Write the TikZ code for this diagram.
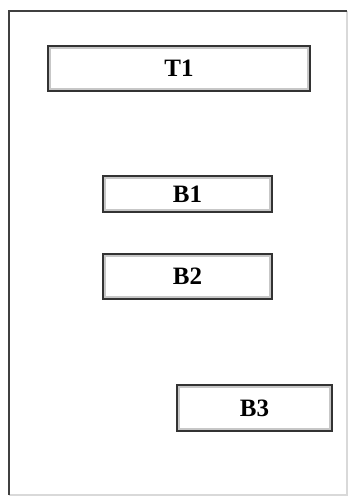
\documentclass[tikz,border=0pt]{standalone}
\usepackage{fontspec}
\setmainfont{Liberation Serif}
\begin{document}
\begin{tikzpicture}[x=1pt,y=-1pt,
  box/.style={draw=black!80, line width=1.6pt, fill=white, inner sep=0pt,
    font=\fontsize{25}{25}\selectfont\bfseries,
    path picture={\draw[black!22, line width=2.2pt]
      ([shift={(1.8pt,1.8pt)}]path picture bounding box.south west) rectangle
      ([shift={(-1.8pt,-1.8pt)}]path picture bounding box.north east);}},
  frameA/.style={draw=black!75, line width=1.8pt},
  frameB/.style={draw=black!15, line width=1.2pt}]
\useasboundingbox (0,0) rectangle (349,496);
\fill[white] (0,0) rectangle (349,496);
\draw[frameB] (9,495) -- (347,495) -- (347,11);
\draw[frameA] (9,495) -- (9,11) -- (347,11);
\node[box, minimum width=262pt, minimum height=45pt] (t1) at (179,68.5) {T1};
\node[box, minimum width=169pt, minimum height=36pt] (b1) at (187.5,194) {B1};
\node[box, minimum width=169pt, minimum height=45pt] (b2) at (187.5,276.5) {B2};
\node[box, minimum width=155pt, minimum height=46pt] (b3) at (254.5,408) {B3};
\end{tikzpicture}
\end{document}
